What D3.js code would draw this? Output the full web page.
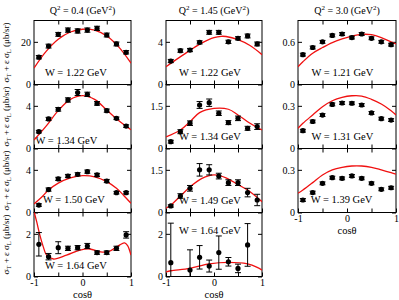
<!DOCTYPE html>
<html>
<head>
<meta charset="utf-8">
<script src="https://cdn.jsdelivr.net/npm/d3@7"></script>
<style>
  body { margin: 0; background: #fff; }
  svg { display: block; }
  text { font-family: "Liberation Serif", "DejaVu Serif", serif; fill: #000; }
</style>
</head>
<body>
<div id="wrapper"></div>
<script>
/* global d3 */

// measured angles (cos theta)
const cosTheta = [-0.9, -0.7, -0.5, -0.3, -0.1, 0.1, 0.3, 0.5, 0.7, 0.9]
const cosThetaSparse = [-0.9, -0.5, -0.3, -0.1, 0.1, 0.3, 0.5, 0.7]

const q2Labels = ["0.4", "1.45", "3.0"]

// Q2 = 0.4
const sigQ04W122 = [12.8, 18.0, 23.5, 25.5, 25.1, 25.5, 26.3, 23.2, 19.0, 15.1]
const errQ04W122 = [0.8, 0.9, 0.9, 1.0, 1.0, 1.0, 1.0, 0.9, 0.9, 0.8]
const fitQ04W122 = [[-1, 7.7], [-0.75, 15.5], [-0.5, 21.2], [-0.25, 24.6], [0, 25.9], [0.25, 25.5], [0.5, 22.7], [0.75, 17.5], [1, 10]]

const sigQ04W134 = [1.58, 2.77, 3.67, 4.55, 5.25, 5.08, 4.23, 3.55, 2.83, 2.1]
const errQ04W134 = [0.12, 0.15, 0.17, 0.2, 0.28, 0.2, 0.17, 0.15, 0.12, 0.12]
const fitQ04W134 = [[-1, 0.8], [-0.75, 2.1], [-0.5, 3.55], [-0.25, 4.6], [0, 4.95], [0.25, 4.6], [0.5, 3.6], [0.75, 2.6], [1, 1.75]]

const sigQ04W150 = [0.7, 2.15, 3.15, 3.42, 3.58, 3.83, 3.52, 2.95, 1.86, 1.86]
const errQ04W150 = [0.12, 0.15, 0.15, 0.15, 0.15, 0.15, 0.15, 0.15, 0.12, 0.12]
const fitQ04W150 = [[-1, 0.8], [-0.85, 1.4], [-0.7, 2.1], [-0.5, 2.75], [-0.25, 3.25], [0, 3.45], [0.25, 3.35], [0.5, 2.9], [0.7, 2.27], [0.85, 1.6], [1, 0.86]]

const sigQ04W164 = [1.51, 0.93, 1.35, 1.32, 1.35, 1.43, 1.12, 1.12, 1.32, 1.95]
const errQ04W164 = [0.55, 0.15, 0.28, 0.1, 0.1, 0.12, 0.08, 0.08, 0.1, 0.15]
const fitQ04W164 = [[-1, 3.05], [-0.945, 2.57], [-0.88, 1.95], [-0.81, 1.4], [-0.74, 1.0], [-0.6, 0.82], [-0.33, 1.0], [-0.05, 1.24], [0.15, 1.29], [0.36, 1.16], [0.53, 1.16], [0.77, 1.48], [0.87, 1.58], [0.93, 1.45], [1, 1.0]]

// Q2 = 1.45
const sigQ145W122 = [2.2, 3.17, 3.23, 3.95, 4.89, 4.89, 4.0, 4.33, 4.55, 3.8]
const errQ145W122 = [0.15, 0.15, 0.15, 0.15, 0.18, 0.18, 0.15, 0.15, 0.18, 0.18]
const fitQ145W122 = [[-1, 1.67], [-0.75, 2.45], [-0.5, 3.2], [-0.25, 3.9], [0, 4.4], [0.15, 4.52], [0.25, 4.5], [0.5, 4.2], [0.75, 3.65], [1, 2.8]]

const sigQ145W134 = [0.24, 0.59, 0.89, 1.53, 1.61, 1.24, 0.91, 1.06, 0.71, 0.77]
const errQ145W134 = [0.05, 0.07, 0.08, 0.12, 0.13, 0.08, 0.07, 0.08, 0.07, 0.1]
const fitQ145W134 = [[-1, 0.41], [-0.7, 0.65], [-0.5, 0.94], [-0.3, 1.26], [0, 1.41], [0.3, 1.38], [0.5, 1.18], [0.7, 0.94], [0.9, 0.74], [1, 0.65]]

const sigQ145W149 = [0.23, 0.58, 0.85, 1.5, 1.5, 1.28, 1.05, 1.05, 0.7, 0.44]
const errQ145W149 = [0.04, 0.08, 0.1, 0.22, 0.18, 0.1, 0.1, 0.1, 0.15, 0.2]
const fitQ145W149 = [[-1, 0.15], [-0.9, 0.26], [-0.7, 0.58], [-0.5, 0.9], [-0.25, 1.2], [0, 1.32], [0.25, 1.22], [0.5, 0.98], [0.7, 0.79], [0.9, 0.53], [1, 0.38]]

const sigQ145W164 = [0.65, 0.3, 0.9, 0.49, 1.12, 0.69, 0.38, 1.48]
const errQ145W164 = [1.85, 0.95, 0.55, 0.28, 0.78, 0.2, 0.2, 1.0]
const fitQ145W164 = [[-1, 0.22], [-0.9, 0.27], [-0.5, 0.38], [-0.1, 0.59], [0.3, 0.66], [0.7, 0.59], [0.9, 0.43], [1, 0.3]]

// Q2 = 3.0
const sigQ30W121 = [0.42, 0.52, 0.60, 0.69, 0.71, 0.66, 0.71, 0.65, 0.60, 0.56]
const errQ30W121 = [0.02, 0.02, 0.02, 0.02, 0.02, 0.02, 0.02, 0.02, 0.02, 0.02]
const fitQ30W121 = [[-1, 0.25], [-0.9, 0.32], [-0.7, 0.44], [-0.5, 0.52], [-0.3, 0.59], [-0.1, 0.64], [0.1, 0.68], [0.3, 0.705], [0.5, 0.7], [0.7, 0.66], [0.9, 0.6], [1, 0.57]]

const sigQ30W131 = [0.125, 0.19, 0.235, 0.31, 0.32, 0.318, 0.306, 0.25, 0.21, 0.20]
const errQ30W131 = [0.01, 0.01, 0.01, 0.01, 0.01, 0.01, 0.01, 0.01, 0.01, 0.01]
const fitQ30W131 = [[-1, 0.142], [-0.9, 0.177], [-0.7, 0.236], [-0.5, 0.294], [-0.3, 0.336], [-0.1, 0.36], [0.1, 0.371], [0.3, 0.369], [0.5, 0.346], [0.7, 0.313], [0.9, 0.266], [1, 0.236]]

const sigQ30W139 = [0.088, 0.14, 0.205, 0.245, 0.24, 0.257, 0.24, 0.205, 0.163, 0.174]
const errQ30W139 = [0.01, 0.01, 0.01, 0.01, 0.01, 0.01, 0.01, 0.01, 0.01, 0.01]
const fitQ30W139 = [[-1, 0.135], [-0.9, 0.158], [-0.7, 0.21], [-0.5, 0.264], [-0.3, 0.3], [-0.1, 0.318], [0.1, 0.327], [0.3, 0.327], [0.5, 0.318], [0.7, 0.3], [0.9, 0.28], [1, 0.269]]

// y-axis ranges and labelled tick per panel
const yMax = [[30, 6, 6, 3], [6, 2.25, 2.25, 3], [0.9, 0.45, 0.45]]
const yTick = [[20, 4, 4, 2], [4, 1.5, 1.5, 2], [0.6, 0.3, 0.3]]
const wLabels = [["1.22", "1.34", "1.50", "1.64"], ["1.22", "1.34", "1.49", "1.64"], ["1.21", "1.31", "1.39"]]

const panelData = [
  [
    { cos: cosTheta, sig: sigQ04W122, err: errQ04W122, fit: fitQ04W122 },
    { cos: cosTheta, sig: sigQ04W134, err: errQ04W134, fit: fitQ04W134 },
    { cos: cosTheta, sig: sigQ04W150, err: errQ04W150, fit: fitQ04W150 },
    { cos: cosTheta, sig: sigQ04W164, err: errQ04W164, fit: fitQ04W164 },
  ],
  [
    { cos: cosTheta, sig: sigQ145W122, err: errQ145W122, fit: fitQ145W122 },
    { cos: cosTheta, sig: sigQ145W134, err: errQ145W134, fit: fitQ145W134 },
    { cos: cosTheta, sig: sigQ145W149, err: errQ145W149, fit: fitQ145W149 },
    { cos: cosThetaSparse, sig: sigQ145W164, err: errQ145W164, fit: fitQ145W164 },
  ],
  [
    { cos: cosTheta, sig: sigQ30W121, err: errQ30W121, fit: fitQ30W121 },
    { cos: cosTheta, sig: sigQ30W131, err: errQ30W131, fit: fitQ30W131 },
    { cos: cosTheta, sig: sigQ30W139, err: errQ30W139, fit: fitQ30W139 },
  ],
]

// layout
const dimensions = { width: 399, height: 300, top: 20.5, rowHeight: 64 }
const columns = [[34, 131], [166, 262], [298, 396]]
// W label placement: [offset from left, text centre below panel top]
const labelPlace = [
  [[11, 51.5], [1.5, 55.5], [9, 50.8], [11, 52.5]],
  [[13, 51.5], [13, 52.2], [13, 51.5], [13, 17.5]],
  [[13.5, 51.5], [13.5, 52.2], [12.7, 50.8]],
]

const svg = d3.select("#wrapper")
  .append("svg")
    .attr("width", dimensions.width)
    .attr("height", dimensions.height)

const fmt = d => String(d)

columns.forEach((colRange, c) => {
  const x = d3.scaleLinear().domain([-1, 1]).range(colRange)
  const nRows = panelData[c].length
  const cx = (colRange[0] + colRange[1]) / 2

  // column title
  const title = svg.append("text")
      .attr("x", cx)
      .attr("y", 13.5)
      .attr("text-anchor", "middle")
      .style("font-size", "10px")
  title.append("tspan").text("Q")
  title.append("tspan").attr("dy", -4).style("font-size", "7px").text("2")
  title.append("tspan").attr("dy", 4).text(` = ${q2Labels[c]} (GeV`)
  title.append("tspan").attr("dy", -4).style("font-size", "7px").text("2")
  title.append("tspan").attr("dy", 4).text(")")

  panelData[c].forEach((p, r) => {
    const top = dimensions.top + r * dimensions.rowHeight
    const bottom = top + dimensions.rowHeight
    const y = d3.scaleLinear().domain([0, yMax[c][r]]).range([bottom, top])
    const isLast = r === nRows - 1

    const clipId = `clip-${c}-${r}`
    svg.append("clipPath").attr("id", clipId)
      .append("rect")
        .attr("x", colRange[0])
        .attr("y", top)
        .attr("width", colRange[1] - colRange[0])
        .attr("height", dimensions.rowHeight)

    const g = svg.append("g")

    // axes (inward ticks on all four sides)
    const left = g.append("g")
        .attr("transform", `translate(${colRange[0]},0)`)
        .call(d3.axisLeft(y).tickValues([0, yTick[c][r]]).tickSize(-4).tickPadding(3).tickFormat(fmt))
    const right = g.append("g")
        .attr("transform", `translate(${colRange[1]},0)`)
        .call(d3.axisRight(y).tickValues([0, yTick[c][r]]).tickSize(-4).tickFormat(""))
    const topAx = g.append("g")
        .attr("transform", `translate(0,${top})`)
        .call(d3.axisTop(x).tickValues([-0.5, 0, 0.5]).tickSize(-4).tickFormat(""))
    const botAx = g.append("g")
        .attr("transform", `translate(0,${bottom})`)
        .call(d3.axisBottom(x).tickValues([-1, -0.5, 0, 0.5, 1]).tickSize(-4).tickPadding(2)
          .tickFormat(d => isLast && Number.isInteger(d) ? String(d) : ""))
    ;[left, right, topAx, botAx].forEach(a => {
      a.select(".domain").remove()
      a.selectAll("line").attr("stroke", "#000")
      a.selectAll("text").style("font-size", "10px").style("font-family", "Liberation Serif, serif")
    })

    // frame
    g.append("rect")
        .attr("x", colRange[0])
        .attr("y", top)
        .attr("width", colRange[1] - colRange[0])
        .attr("height", dimensions.rowHeight)
        .attr("fill", "none")
        .attr("stroke", "#000")
        .attr("stroke-width", 1)

    // W label
    const lp = labelPlace[c][r]
    g.append("text")
        .attr("x", colRange[0] + lp[0])
        .attr("y", top + lp[1] + 3.5)
        .style("font-size", "10.5px")
        .text(`W = ${wLabels[c][r]} GeV`)

    const inner = g.append("g").attr("clip-path", `url(#${clipId})`)

    // model curve
    const line = d3.line()
      .x(d => x(d[0]))
      .y(d => y(d[1]))
      .curve(d3.curveCatmullRom.alpha(0.5))
    inner.append("path")
        .datum(p.fit)
        .attr("d", line)
        .attr("fill", "none")
        .attr("stroke", "#f01010")
        .attr("stroke-width", 1.3)

    // data points with error bars
    const pts = p.cos.map((cv, i) => ({ cos: cv, v: p.sig[i], e: p.err[i] }))
    const pg = inner.selectAll(".pt").data(pts).join("g").attr("class", "pt")
    pg.append("line")
        .attr("x1", d => x(d.cos)).attr("x2", d => x(d.cos))
        .attr("y1", d => y(d.v - d.e)).attr("y2", d => y(d.v + d.e))
        .attr("stroke", "#000").attr("stroke-width", 1)
    pg.append("line")
        .attr("x1", d => x(d.cos) - 3).attr("x2", d => x(d.cos) + 3)
        .attr("y1", d => y(d.v - d.e)).attr("y2", d => y(d.v - d.e))
        .attr("stroke", "#000").attr("stroke-width", 1)
    pg.append("line")
        .attr("x1", d => x(d.cos) - 3).attr("x2", d => x(d.cos) + 3)
        .attr("y1", d => y(d.v + d.e)).attr("y2", d => y(d.v + d.e))
        .attr("stroke", "#000").attr("stroke-width", 1)
    pg.append("circle")
        .attr("cx", d => x(d.cos))
        .attr("cy", d => y(d.v))
        .attr("r", 2.6)
        .attr("fill", "#000")

    // y-axis title for first column
    if (c === 0) {
      const yl = svg.append("text")
          .attr("transform", `translate(9,${(top + bottom) / 2}) rotate(-90)`)
          .attr("text-anchor", "middle")
          .style("font-size", "9px")
      yl.append("tspan").text("σ")
      yl.append("tspan").attr("dy", 2).style("font-size", "6.5px").text("T")
      yl.append("tspan").attr("dy", -2).text(" + ε σ")
      yl.append("tspan").attr("dy", 2).style("font-size", "6.5px").text("L")
      yl.append("tspan").attr("dy", -2).text(" (μb/sr)")
    }

    if (isLast) {
      svg.append("text")
          .attr("x", cx)
          .attr("y", bottom + 21.2)
          .attr("text-anchor", "middle")
          .style("font-size", "10.5px")
          .text("cosθ")
    }
  })
})
</script>
</body>
</html>
